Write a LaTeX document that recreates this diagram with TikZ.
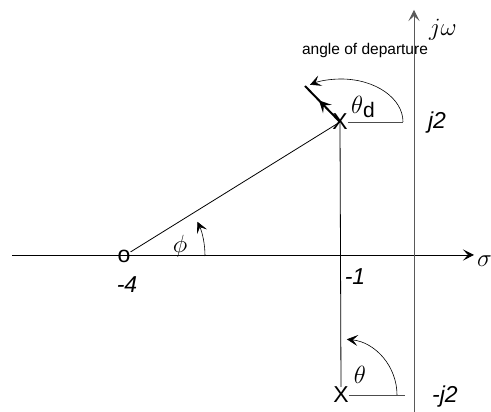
\documentclass[tikz,border=0pt]{standalone}
\usepackage{fontspec}
\setmainfont{Liberation Sans}
\usetikzlibrary{arrows.meta,positioning,decorations.markings}

\tikzset{
  lbl/.style={font=\fontsize{23}{26}\selectfont\itshape, inner sep=1pt},
  greek/.style={font=\fontsize{25}{28}\selectfont, inner sep=1pt},
  polemark/.style={font=\fontsize{23}{26}\selectfont, inner sep=0pt},
  tip/.style={-{Stealth[length=11pt,width=11pt,inset=5pt]}},
}

\begin{document}
\begin{tikzpicture}[x=1pt,y=1pt]
    \useasboundingbox (0,0) rectangle (491,412);

    % axes
    \coordinate (re0) at (12,157);
    \coordinate (re1) at (474,157);
    \coordinate (im0) at (414,0);
    \coordinate (im1) at (414,402);
    \draw[tip, line width=0.8pt] (re0) -- (re1);
    \draw[tip, gray!70!black, line width=0.8pt] (im0) -- (im1);
    \node[greek, anchor=west] (lblsig) at (476,151) {$\sigma$};
    \node[greek] (lblom) at (443,382) {$j\omega$};

    % zero and poles
    \node[polemark] (zero) at (124,156) {o};
    \node[polemark] (pup) at (340,290) {X};
    \node[polemark] (pdn) at (341,17) {X};
    \draw[line width=0.8pt] (zero) -- (pup.center);
    \draw[line width=0.8pt] (pup.center) -- (pdn.north);

    % values on the axes
    \node[lbl] (lblm4) at (127,127) {-4};
    \node[lbl] (lblm1) at (355,135) {-1};
    \node[lbl] (lblj2) at (437,289) {j2};
    \node[lbl] (lblmj2) at (445,15) {-j2};

    % angle phi from the zero
    \coordinate (phiref) at (205,156);
    \draw[tip, line width=0.6pt] (phiref) arc[start angle=0, end angle=25, radius=81];
    \node[greek] (lblphi) at (180,166) {$\phi$};

    % angle of departure at the upper pole
    \coordinate (dep) at (305,326);
    \draw[line width=2pt, postaction={decorate},
          decoration={markings, mark=at position 0.6 with {\arrow{Stealth[length=12pt,width=12pt,inset=5pt]}}}]
          (pup.center) -- (dep);
    \coordinate (dref) at (403,290);
    \draw[gray!60!black, line width=0.7pt] (pup.east) -- (dref);
    \draw[tip, line width=0.6pt] (dref) arc[start angle=0, end angle=120, x radius=62, y radius=43];
    \node[greek] (lbltd) at (363,305) {$\theta$\raisebox{-4pt}{\fontsize{21}{24}\selectfont d}};
    \node[font=\fontsize{15.5}{18}\selectfont] (lbldep) at (365,362) {angle of departure};

    % angle theta at the lower pole
    \coordinate (tref) at (405,17);
    \draw[gray!60!black, line width=0.7pt] (pdn.east) -- (tref);
    \draw[tip, line width=0.6pt] (397,17) arc[start angle=0, end angle=84, radius=56];
    \node[greek] (lblt) at (360,37) {$\theta$};
\end{tikzpicture}
\end{document}
